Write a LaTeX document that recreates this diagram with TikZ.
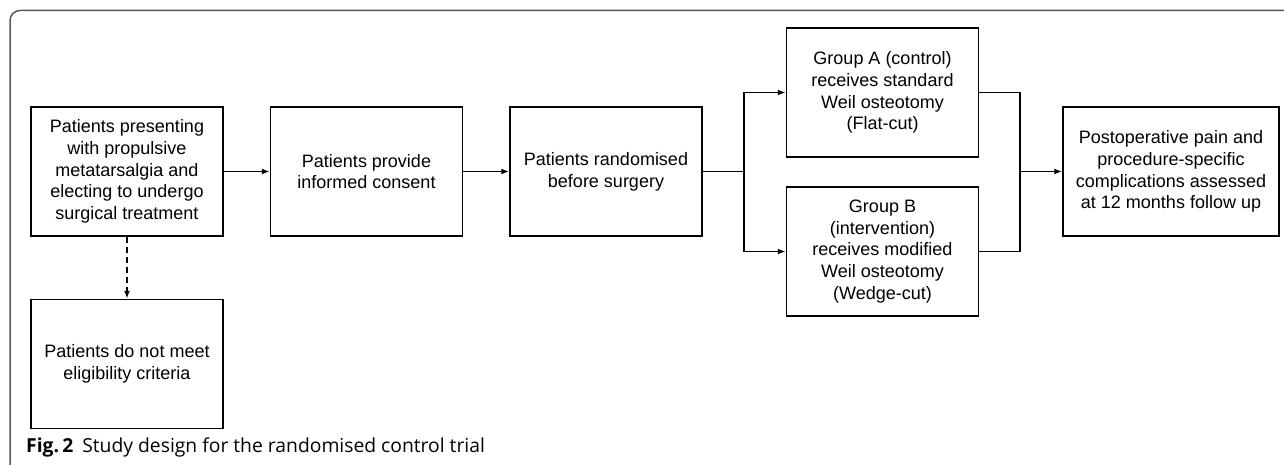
\documentclass[tikz,border=0pt]{standalone}
\usepackage{fontspec}
\setmainfont{Liberation Sans}
\newfontfamily\capfont{Open Sans}
\usetikzlibrary{arrows.meta,positioning}

\begin{document}
\begin{tikzpicture}[
  x=1pt, y=1pt, >={Latex[length=8pt,width=6pt]}, node distance=46pt,
  stage/.style={draw, line width=1.5pt, minimum width=192pt, minimum height=129pt,
              align=center, inner sep=2pt, font=\fontsize{18}{21.7}\selectfont},
  link/.style={draw, line width=1.8pt},
  every edge/.style={link, ->}
]
  \useasboundingbox (0,0) rectangle (1284,-465);
  \draw[line width=1.5pt, gray!70!black, rounded corners=10pt] (10,-465) |- (1284,-10.5);

  \node[stage] (present) at (127,-171.5) {Patients presenting\\ with propulsive\\ metatarsalgia and\\ electing to undergo\\ surgical treatment};
  \node[stage, right=of present] (consent) {Patients provide\\ informed consent};
  \node[stage, right=of consent] (rand)    {Patients randomised\\ before surgery};
  \node[stage, right=83pt of rand, yshift=79pt]  (grpA) {Group A (control)\\ receives standard\\ Weil osteotomy\\ (Flat-cut)};
  \node[stage, right=83pt of rand, yshift=-80pt] (grpB) {Group B\\ (intervention)\\ receives modified\\ Weil osteotomy\\ (Wedge-cut)};
  \node[stage, minimum width=216pt, right=83pt of grpA, yshift=-79pt] (follow) {Postoperative pain and\\ procedure-specific\\ complications assessed\\ at 12 months follow up};
  \node[stage, below=62pt of present] (exclude) {Patients do not meet\\ eligibility criteria};

  \coordinate[right=41pt of rand.east] (split);
  \coordinate[left=42pt of follow.west] (join);

  \path (present) edge (consent);
  \path (consent) edge (rand);
  \draw[link] (rand.east) -- (split);
  \draw[link, ->] (split) |- (grpA.west);
  \draw[link, ->] (split) |- (grpB.west);
  \draw[link] (grpA.east) -| (join) |- (grpB.east);
  \path (join) edge (follow.west);
  \path (present) edge[dash pattern=on 6pt off 4pt] (exclude);

  \node[anchor=base west, inner sep=0pt, font={\capfont\fontsize{19.3}{22}\selectfont}] (caption) at (26,-452)
    {\textbf{Fig.\,2}\hspace{9pt}Study design for the randomised control trial};
\end{tikzpicture}
\end{document}
